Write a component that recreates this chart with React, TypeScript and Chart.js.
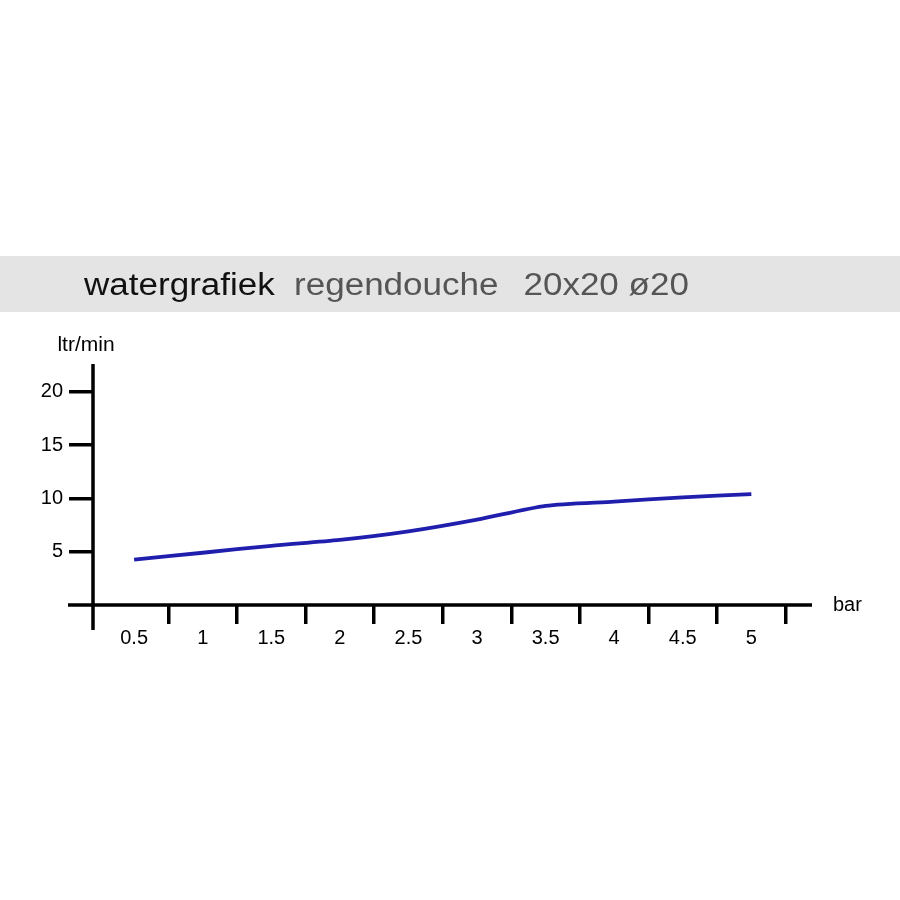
import { useRef, useEffect } from 'react';
import { Chart, registerables } from 'chart.js';

Chart.register(...registerables);

// pressure (bar) vs flow (ltr/min)
const pressures = [0.5, 1, 1.5, 2, 2.5, 3, 3.5, 4, 4.5, 5];
const flowRates = [4.25, 4.9, 5.55, 6.1, 6.9, 8.0, 9.3, 9.7, 10.1, 10.4];
const yTickValues = [5, 10, 15, 20];

const titleMain = 'watergrafiek';
const titleSub = 'regendouche';
const titleSize = '20x20 ø20';
const yTitle = 'ltr/min';
const xTitle = 'bar';

const FONT = '"Liberation Sans", Arial, sans-serif';

const axisLines = {
  id: 'axisLines',
  afterDraw(chart: Chart) {
    const { ctx, chartArea, scales } = chart;
    const y0 = scales.y.getPixelForValue(0);
    ctx.save();
    ctx.strokeStyle = '#000';
    ctx.lineWidth = 3.5;
    ctx.beginPath();
    ctx.moveTo(chartArea.left - 25, y0);
    ctx.lineTo(chartArea.right + 25, y0);
    ctx.moveTo(chartArea.left, chartArea.top);
    ctx.lineTo(chartArea.left, y0 + 25);
    ctx.stroke();

    ctx.fillStyle = '#000';
    ctx.font = `21px ${FONT}`;
    ctx.textAlign = 'center';
    ctx.textBaseline = 'alphabetic';
    ctx.fillText(yTitle, chartArea.left - 7, chartArea.top - 13);
    ctx.font = `20px ${FONT}`;
    ctx.textAlign = 'left';
    ctx.fillText(xTitle, chartArea.right + 46, y0 + 6);
    ctx.restore();
  },
};

export default function App() {
  const canvasRef = useRef<HTMLCanvasElement>(null);

  useEffect(() => {
    if (!canvasRef.current) return;
    const ctx = canvasRef.current.getContext('2d');
    if (!ctx) return;

    const chart = new Chart(ctx, {
      type: 'line',
      data: {
        datasets: [
          {
            label: 'regendouche',
            data: pressures.map((p, i) => ({ x: p, y: flowRates[i] })),
            borderColor: 'rgb(32, 30, 172)',
            borderWidth: 3.8,
            pointRadius: 0,
            tension: 0.25,
            fill: false,
          },
        ],
      },
      options: {
        animation: false,
        responsive: true,
        maintainAspectRatio: false,
        layout: { padding: { left: 33, right: 113, top: 364, bottom: 235 } },
        plugins: {
          legend: { display: false },
          tooltip: { enabled: false },
        },
        scales: {
          x: {
            type: 'linear',
            min: 0.2,
            max: 5.26,
            afterBuildTicks: (s: any) => {
              s.ticks = pressures.map((v) => ({ value: v }));
            },
            afterFit: (s: any) => {
              s.height = 60;
            },
            border: { display: false },
            grid: {
              display: true,
              drawOnChartArea: false,
              drawTicks: true,
              offset: true,
              tickLength: 19,
              lineWidth: 3.5,
              color: (c: any) => (c.index === 0 ? 'rgba(0,0,0,0)' : '#000'),
            },
            ticks: {
              color: '#000',
              padding: 2,
              maxRotation: 0,
              autoSkip: false,
              font: { family: FONT, size: 20 },
              callback: (v: any) => String(v),
            },
          },
          y: {
            type: 'linear',
            min: 0,
            max: 22.6,
            afterBuildTicks: (s: any) => {
              s.ticks = yTickValues.map((v) => ({ value: v }));
            },
            afterFit: (s: any) => {
              s.width = 60;
            },
            border: { display: false },
            grid: {
              display: true,
              drawOnChartArea: false,
              drawTicks: true,
              tickLength: 24,
              lineWidth: 3.5,
              color: '#000',
            },
            ticks: {
              color: '#000',
              padding: 6,
              font: { family: FONT, size: 20 },
              callback: (v: any) => String(v),
            },
          },
        },
      },
      plugins: [axisLines],
    });

    return () => {
      chart.destroy();
    };
  }, []);

  return (
    <div style={{ position: 'absolute', left: 0, top: 0, width: 900, height: 900, background: '#fff' }}>
      <canvas ref={canvasRef} />
      <div
        style={{
          position: 'absolute',
          left: 0,
          top: 256,
          width: 900,
          height: 56,
          background: '#e4e4e4',
          fontFamily: FONT,
          fontSize: 31,
          lineHeight: '56px',
          whiteSpace: 'nowrap',
        }}
      >
        <div style={{ position: 'absolute', left: 84, top: 1, transform: 'scaleX(1.13)', transformOrigin: 'left center' }}>
          <span style={{ color: '#111' }}>{titleMain}</span>
          <span style={{ color: '#555', marginLeft: 17 }}>{titleSub}</span>
          <span style={{ color: '#555', marginLeft: 22 }}>{titleSize}</span>
        </div>
      </div>
    </div>
  );
}
